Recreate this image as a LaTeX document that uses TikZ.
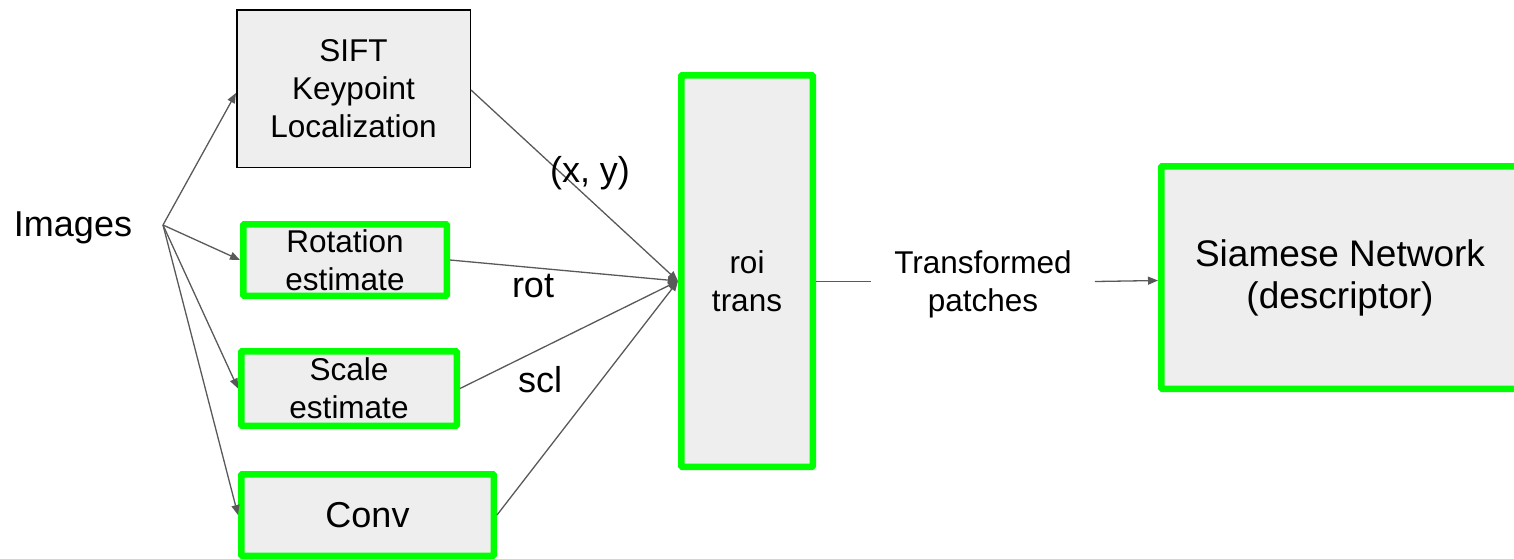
\documentclass[tikz,border=0pt]{standalone}
\usepackage{fontspec}
\setmainfont{Liberation Sans}
\usetikzlibrary{arrows.meta}
\definecolor{boxfill}{HTML}{EEEEEE}
\definecolor{brightgreen}{HTML}{00FF00}
\definecolor{wiregray}{HTML}{595959}

\begin{document}
\begin{tikzpicture}[x=1pt,y=-1pt,
  block/.style={draw, fill=boxfill, inner sep=0pt, align=center},
  greenblock/.style={block, draw=brightgreen, line width=6.5pt, rounded corners=1pt},
  plainblock/.style={block, draw=black, line width=1.5pt},
  txt/.style={font=\fontsize{31.5}{38}\selectfont},
  bigtxt/.style={font=\fontsize{36}{42}\selectfont},
  wire/.style={draw=wiregray, line width=1.3pt},
  arrow/.style={wire, -{Triangle[length=10pt,width=8pt]}},
]
\useasboundingbox (0,0) rectangle (1514,558);

% input and the four branches
\node[bigtxt] (images) at (73,228) {Images};
\coordinate (fan) at (163,225);

\node[plainblock, minimum width=233.5pt, minimum height=157.5pt, txt]
  (sift) at (353.5,88.5) {SIFT\\Keypoint\\Localization};
\node[greenblock, minimum width=203.5pt, minimum height=71.5pt, txt]
  (rot) at (345,260) {Rotation\\estimate};
\node[greenblock, minimum width=215.5pt, minimum height=74.5pt, txt]
  (scl) at (349,388.5) {Scale\\estimate};
\node[greenblock, minimum width=252.5pt, minimum height=81.5pt, bigtxt]
  (conv) at (367.5,515) {Conv};

% transformer block
\node[greenblock, minimum width=131.5pt, minimum height=391.5pt] (roi) at (747,271) {};
\node[txt, align=center] (roitxt) at (747,281) {roi\\trans};

% descriptor block (runs past the right edge)
\node[greenblock, minimum width=365.5pt, minimum height=222.5pt] (siam) at (1344,277.5) {};
\node[font=\fontsize{37}{42}\selectfont, align=center] (siamtxt) at (1340,278)
  {Siamese Network\\(descriptor)};

% fan-out from the images
\draw[arrow] (fan) -- ([yshift=-4.5pt]sift.west);
\draw[arrow] (fan) -- (rot.west);
\draw[arrow] (fan) -- (scl.west);
\draw[arrow] (fan) -- (conv.west);

% fan-in to the transformer
\coordinate (hub) at ([yshift=-10pt]roi.west);
\draw[arrow] ([yshift=-1.5pt]sift.east) -- (hub);
\draw[arrow] (rot.east) -- (hub);
\draw[arrow] (scl.east) -- (hub);
\draw[arrow] (conv.east) -- (hub);

% edge labels
\node[bigtxt] (lxy) at (590,173) {(x, y)};
\node[bigtxt] (lrot) at (533,286) {rot};
\node[bigtxt] (lscl) at (540,380) {scl};

% output patches
\coordinate (out) at ([yshift=-10.5pt]roi.east);
\node[txt, align=center, inner xsep=23pt] (tp) at (983,284) {Transformed\\patches};
\draw[wire] (out) -- (out -| tp.west);
\draw[arrow] (tp.east |- out) -- ([yshift=-3pt]siam.west);
\end{tikzpicture}
\end{document}
